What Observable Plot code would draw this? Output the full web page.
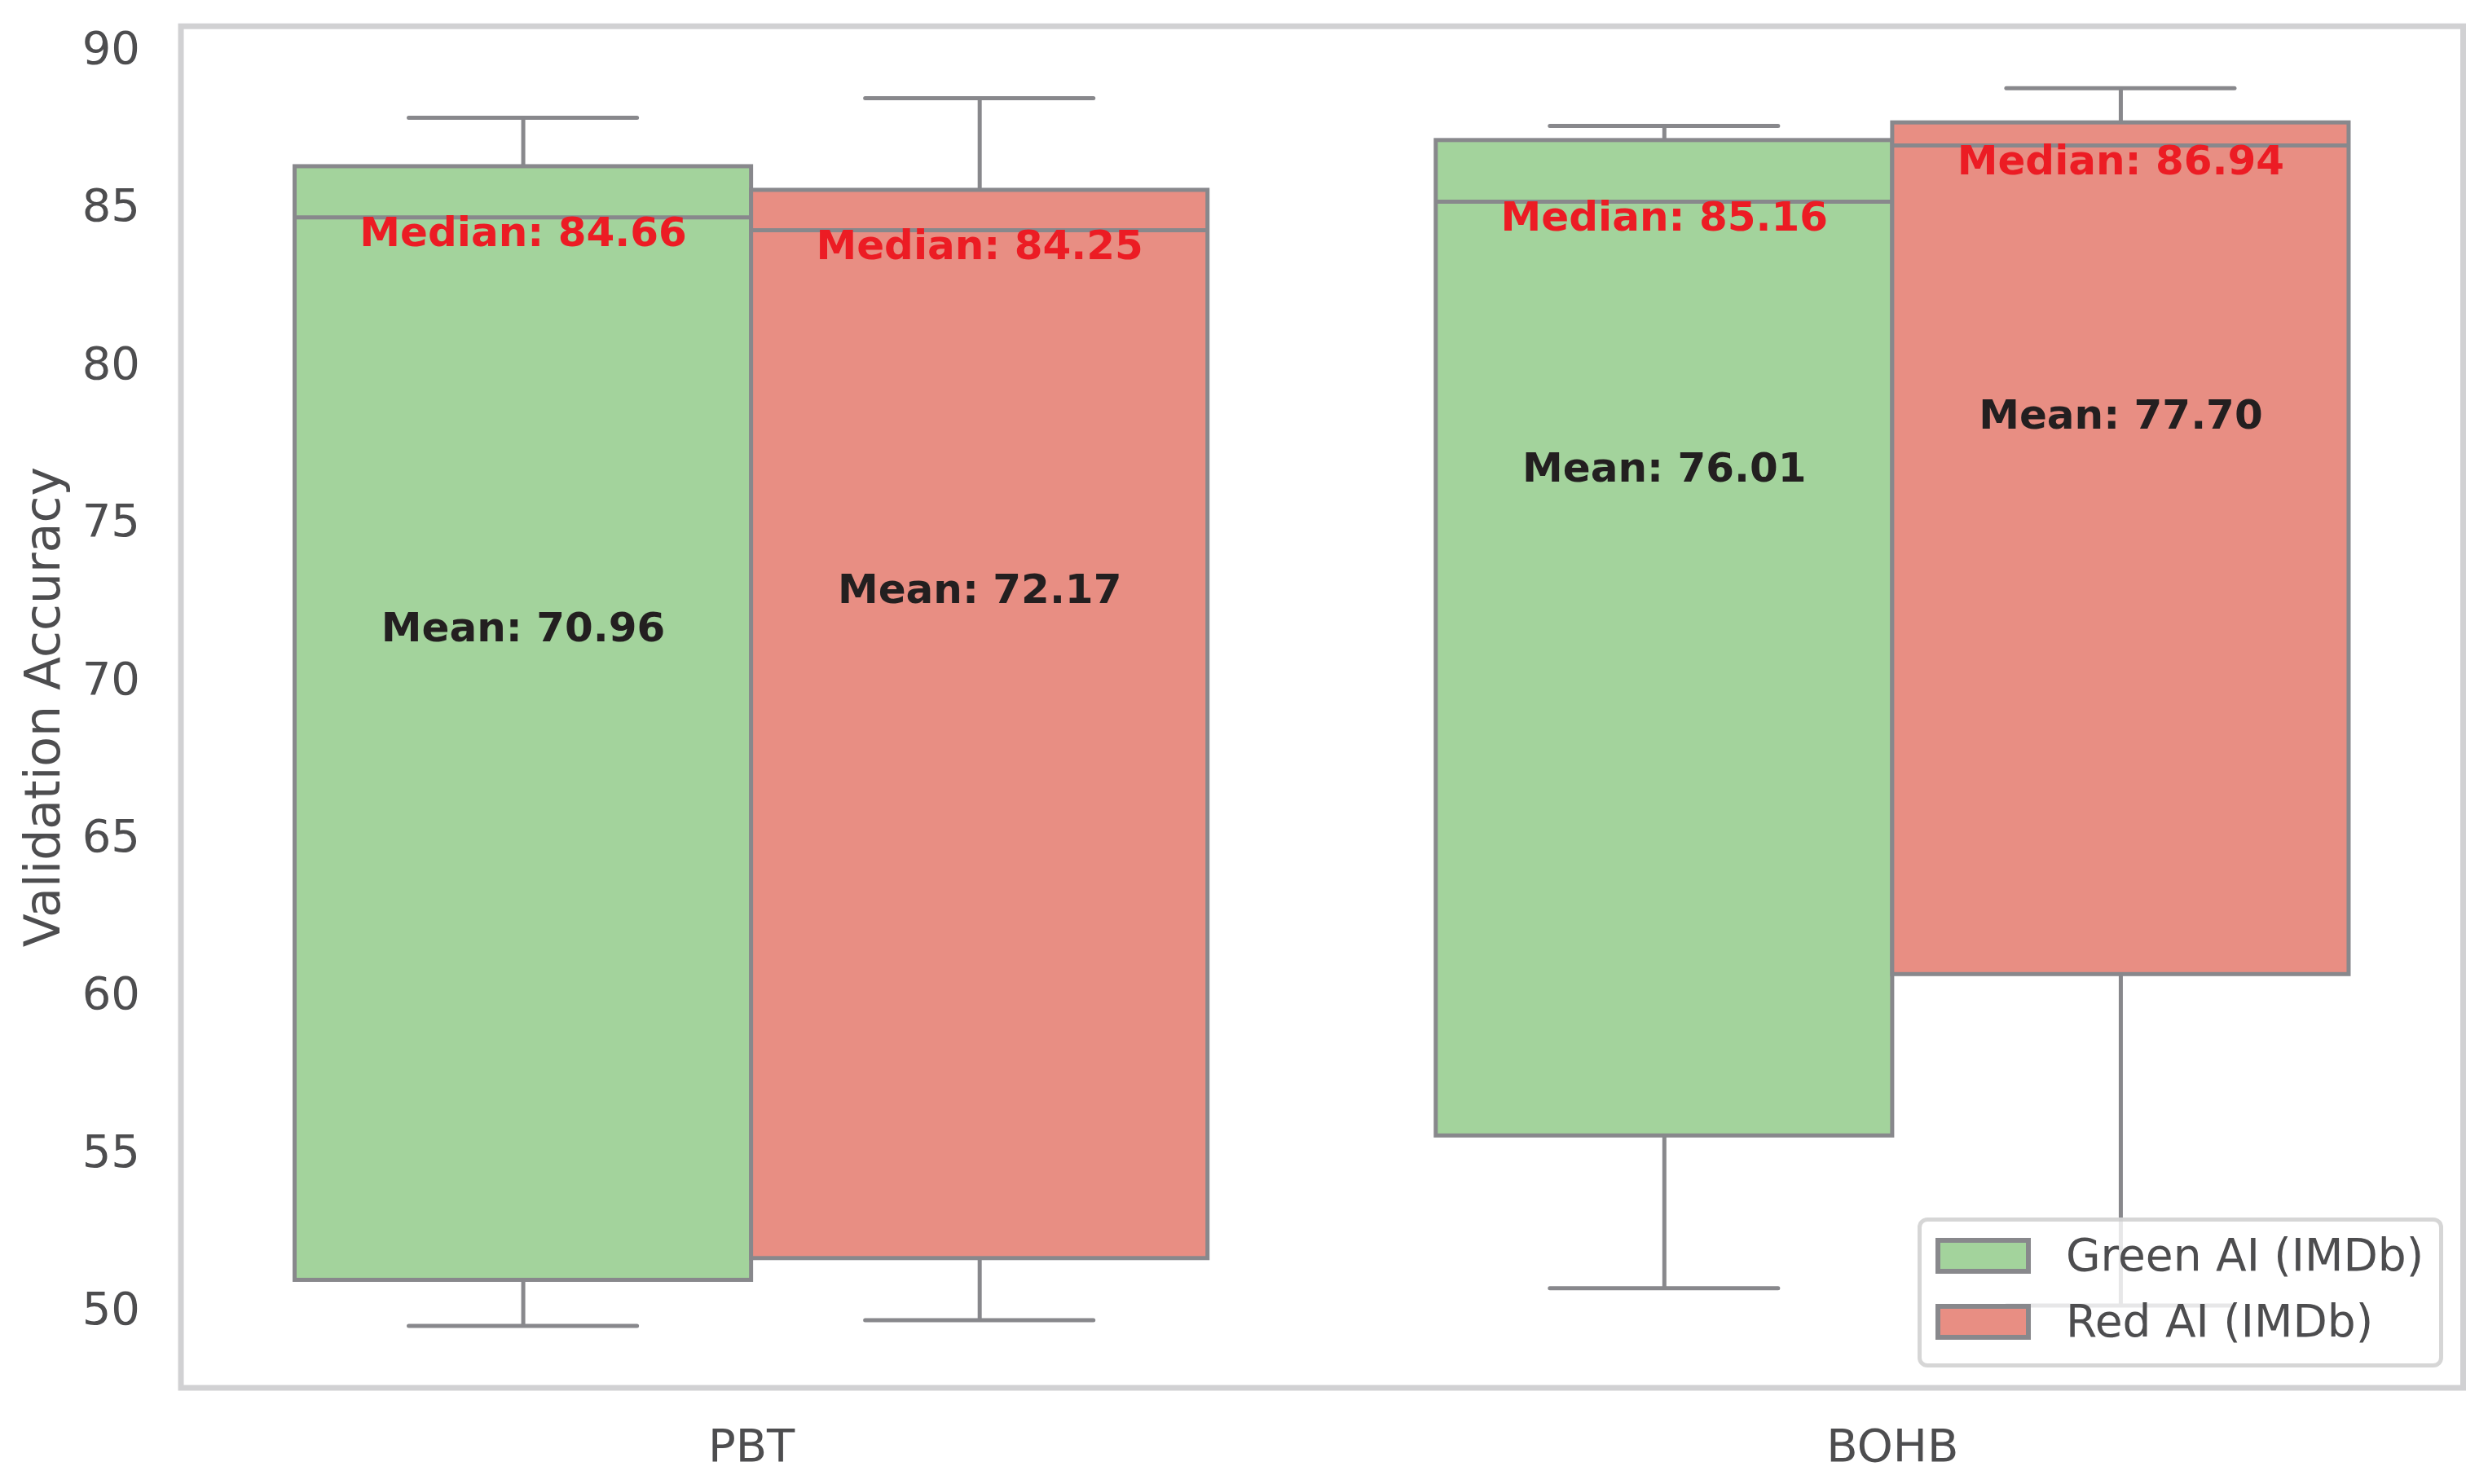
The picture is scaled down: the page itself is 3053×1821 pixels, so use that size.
<!DOCTYPE html>
<html>
<head>
<meta charset="utf-8">
<script src="https://cdn.jsdelivr.net/npm/d3@7"></script>
<script src="https://cdn.jsdelivr.net/npm/@observablehq/plot@0.6"></script>
<style>
  html, body { margin: 0; padding: 0; background: #ffffff; }
  #wrap { position: relative; width: 3053px; height: 1821px; font-family: "DejaVu Sans", sans-serif; }
  #legend {
    position: absolute; left: 2353px; top: 1494px; width: 645px; height: 184px;
    box-sizing: border-box; border: 5px solid rgba(204,204,204,0.8); border-radius: 12px;
    background: rgba(255,255,255,0.8); padding: 1px 0 0 17px;
  }
  .row { display: flex; align-items: center; height: 81px; }
  .sw { width: 117px; height: 44px; box-sizing: border-box; border: 6px solid #88888c; }
  .lbl { margin-left: 43px; font-size: 55px; line-height: 55px; color: #4d4d4f; white-space: nowrap; }
</style>
</head>
<body>
<div id="wrap"></div>
<script>
// ---- data ----
const methods = ["PBT", "BOHB"];
const series = ["Green AI (IMDb)", "Red AI (IMDb)"];
const boxMethod = ["PBT", "PBT", "BOHB", "BOHB"];
const boxSeries = ["Green AI (IMDb)", "Red AI (IMDb)", "Green AI (IMDb)", "Red AI (IMDb)"];
const whiskerLow = [49.49, 49.67, 50.69, 50.14];
const q1 = [50.94, 51.63, 55.52, 60.64];
const median = [84.66, 84.25, 85.16, 86.94];
const q3 = [86.27, 85.52, 87.10, 87.66];
const whiskerHigh = [87.82, 88.44, 87.56, 88.76];
const mean = [70.96, 72.17, 76.01, 77.70];
const yTicks = [50, 55, 60, 65, 70, 75, 80, 85, 90];

// ---- styles ----
const palette = ["#a3d39c", "#e88e83"];
const edge = "#88888c";

const idx = d3.range(median.length);
const mi = i => methods.indexOf(boxMethod[i]);
const si = i => series.indexOf(boxSeries[i]);
const bx1 = i => mi(i) - 0.4 + 0.4 * si(i);
const bx2 = i => bx1(i) + 0.4;
const bc = i => bx1(i) + 0.2;

const lo = d3.min(whiskerLow), hi = d3.max(whiskerHigh);
const pad = (hi - lo) * 0.05;

const chart = Plot.plot({
  width: 3053,
  height: 1821,
  marginLeft: 221.5,
  marginRight: 31,
  marginTop: 31.7,
  marginBottom: 118.5,
  style: { color: "#4d4d4f", fontFamily: "DejaVu Sans", background: "#ffffff" },
  x: { type: "linear", domain: [-0.5, 1.5], label: null },
  y: { domain: [lo - pad, hi + pad], label: null },
  color: { domain: series, range: palette },
  marks: [
    // whiskers
    Plot.ruleX(idx, { x: bc, y1: i => q3[i], y2: i => whiskerHigh[i], stroke: edge, strokeWidth: 5 }),
    Plot.ruleX(idx, { x: bc, y1: i => whiskerLow[i], y2: i => q1[i], stroke: edge, strokeWidth: 5 }),
    Plot.ruleY(idx, { y: i => whiskerHigh[i], x1: i => bc(i) - 0.1, x2: i => bc(i) + 0.1, stroke: edge, strokeWidth: 5, strokeLinecap: "round" }),
    Plot.ruleY(idx, { y: i => whiskerLow[i], x1: i => bc(i) - 0.1, x2: i => bc(i) + 0.1, stroke: edge, strokeWidth: 5, strokeLinecap: "round" }),
    // boxes
    Plot.rect(idx, { x1: bx1, x2: bx2, y1: i => q1[i], y2: i => q3[i], fill: i => boxSeries[i], stroke: edge, strokeWidth: 5 }),
    Plot.ruleY(idx, { y: i => median[i], x1: bx1, x2: bx2, stroke: edge, strokeWidth: 5 }),
    // labels
    Plot.text(idx, { x: bc, y: i => median[i], text: i => "Median: " + median[i].toFixed(2), lineAnchor: "top", fill: "#ec1c24", fontWeight: "bold", fontSize: 50 }),
    Plot.text(idx, { x: bc, y: i => mean[i], text: i => "Mean: " + mean[i].toFixed(2), lineAnchor: "bottom", dy: -10, fill: "#231f20", fontWeight: "bold", fontSize: 50 }),
    // axes
    Plot.axisY({ ticks: yTicks, tickSize: 0, tickPadding: 50, fontSize: 56, label: null }),
    Plot.axisY({ ticks: [], tickSize: 0, label: "Validation Accuracy", labelArrow: "none", labelAnchor: "center", labelOffset: 192, fontSize: 60 }),
    Plot.axisX({ ticks: [0, 1], tickFormat: i => methods[i], tickSize: 0, tickPadding: 50, fontSize: 56, label: null }),
    Plot.frame({ stroke: "#d1d1d3", strokeWidth: 7 })
  ]
});

const wrap = document.getElementById("wrap");
wrap.appendChild(chart);

const legend = document.createElement("div");
legend.id = "legend";
series.forEach((s, k) => {
  const row = document.createElement("div");
  row.className = "row";
  const sw = document.createElement("div");
  sw.className = "sw";
  sw.style.background = palette[k];
  const lb = document.createElement("span");
  lb.className = "lbl";
  lb.textContent = s;
  row.appendChild(sw);
  row.appendChild(lb);
  legend.appendChild(row);
});
wrap.appendChild(legend);
</script>
</body>
</html>
